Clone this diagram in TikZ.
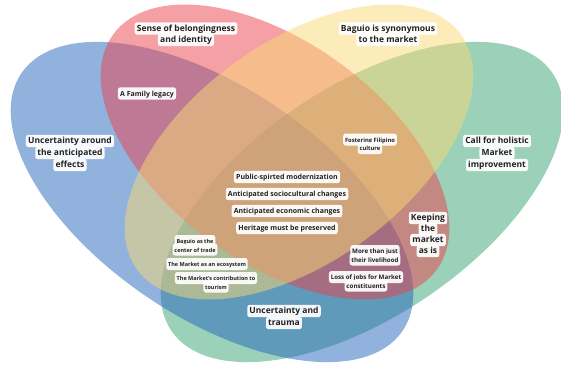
\documentclass[tikz,border=0pt]{standalone}
\usepackage{fontspec}
\setmainfont{Open Sans}
% base colours of the four sets
\definecolor{setblue}{RGB}{37,101,189}
\definecolor{setgreen}{RGB}{55,161,115}
\definecolor{setpink}{RGB}{235,65,75}
\definecolor{setyellow}{RGB}{249,217,115}
\definecolor{labeltext}{RGB}{34,34,34}
\begin{document}
\begin{tikzpicture}[x=1pt,y=-1pt,
  setfill/.style={fill opacity=0.5},
  lab/.style={fill=white, fill opacity=0.93, text opacity=1, text=labeltext,
    rounded corners=2.5pt, inner xsep=2.2pt, inner ysep=1.2pt,
    text height=0.78em, text depth=0.22em},
  biglab/.style={lab, font=\fontsize{8.5}{10}\selectfont\bfseries},
  midlab/.style={lab, font=\fontsize{7}{8}\selectfont\bfseries},
  smalllab/.style={lab, font=\fontsize{6.2}{7}\selectfont\bfseries, inner xsep=1.8pt, inner ysep=1pt},
  tinylab/.style={lab, font=\fontsize{5.5}{6.2}\selectfont\bfseries, inner xsep=1.8pt, inner ysep=1pt}]
\useasboundingbox (0,0) rectangle (561,364);

% the four sets
\fill[setgreen, setfill, rotate around={34:(362,202)}] (362,202) ellipse (230 and 115);
\fill[setblue, setfill, rotate around={-34:(212,202)}] (212,202) ellipse (230 and 115);
\fill[setpink, setfill, rotate around={-36:(275,152)}] (275,152) ellipse (200 and 110);
\fill[setyellow, setfill, rotate around={36:(299,152)}] (299,152) ellipse (200 and 110);

% set labels
\node[biglab] (sense1) at (186,28.5) {Sense of belongingness};
\node[biglab] (sense2) at (186,40) {and identity};
\node[biglab] (syn1) at (388,28.5) {Baguio is synonymous};
\node[biglab] (syn2) at (388,40) {to the market};
\node[biglab] (unc1) at (70,141) {Uncertainty around};
\node[biglab] (unc2) at (70,153) {the anticipated};
\node[biglab] (unc3) at (70,165) {effects};
\node[biglab] (hol1) at (497,141) {Call for holistic};
\node[biglab] (hol2) at (497,153) {Market};
\node[biglab] (hol3) at (497,165) {improvement};
\node[biglab] (keep1) at (428,218) {Keeping};
\node[biglab] (keep2) at (428,229) {the};
\node[biglab] (keep3) at (428,240) {market};
\node[biglab] (keep4) at (428,251) {as is};
\node[biglab] (trau1) at (284,311) {Uncertainty and};
\node[biglab] (trau2) at (284,323) {trauma};

% overlap labels
\node[midlab] (family) at (147,93.5) {A Family legacy};
\node[midlab] (core1) at (287,177) {Public-spirted modernization};
\node[midlab] (core2) at (287,194) {Anticipated sociocultural changes};
\node[midlab] (core3) at (287,211) {Anticipated economic changes};
\node[midlab] (core4) at (287,228) {Heritage must be preserved};

\node[tinylab, font=\fontsize{5.8}{6.5}\selectfont\bfseries] (fos1) at (370,139.5) {Fostering Filipino};
\node[tinylab, font=\fontsize{5.8}{6.5}\selectfont\bfseries] (fos2) at (370,148) {culture};
\node[tinylab] (trade1) at (195,241) {Baguio as the};
\node[tinylab] (trade2) at (195,249.5) {center of trade};
\node[tinylab] (eco) at (207,264) {The Market as an ecosystem};
\node[tinylab] (tour1) at (216,278) {The Market's contribution to};
\node[tinylab] (tour2) at (216,286.5) {tourism};
\node[smalllab] (live1) at (375,251) {More than just};
\node[smalllab] (live2) at (375,259.5) {their livelihood};
\node[smalllab] (loss1) at (366,277) {Loss of jobs for Market};
\node[smalllab] (loss2) at (366,285.5) {constituents};
\end{tikzpicture}
\end{document}
